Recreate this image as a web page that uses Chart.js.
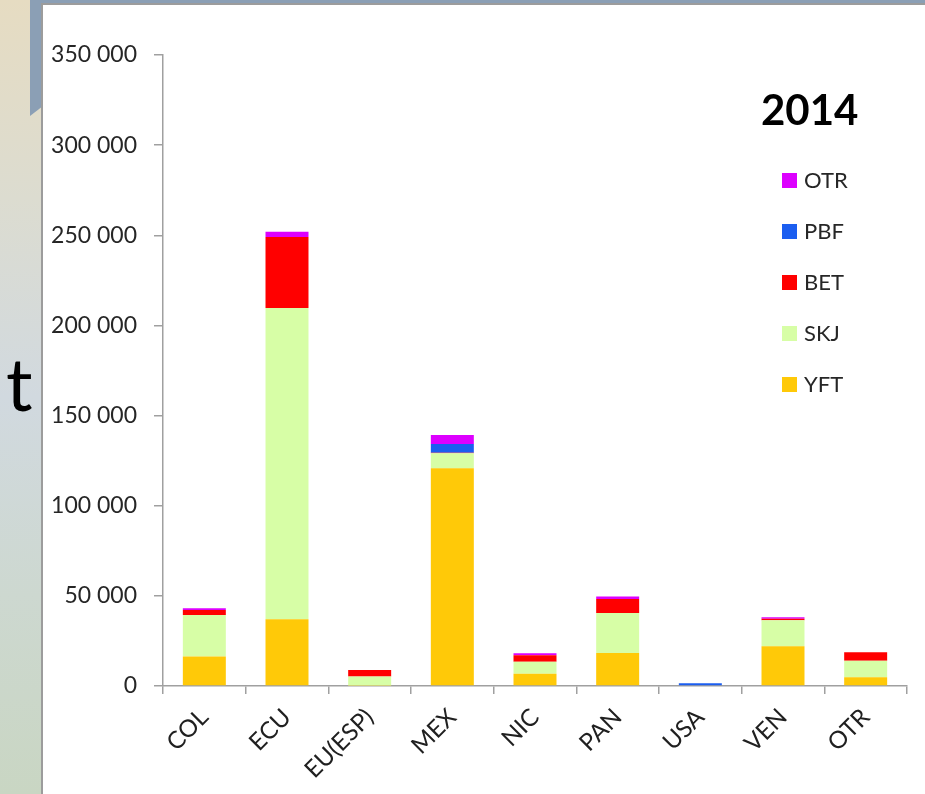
<!DOCTYPE html>
<html>
<head>
<meta charset="utf-8">
<script src="https://cdn.jsdelivr.net/npm/chart.js@4"></script>
<style>
  html, body { margin: 0; padding: 0; }
  body {
    width: 925px; height: 794px; overflow: hidden; position: relative;
    background: linear-gradient(to bottom, #e6dcc2 0%, #dcdcd0 25%, #d1d9df 50%, #cdd8d0 75%, #c9d6c3 100%);
    font-family: Lato, "Open Sans", sans-serif;
  }
  #topband { position: absolute; left: 30px; top: 0; width: 895px; height: 4px; background: #8b9fb5; }
  #corner { position: absolute; left: 30px; top: 0; width: 12px; height: 116px; background: #8b9fb5;
            clip-path: polygon(0 0, 100% 0, 100% 92%, 0 100%); }
  #panel { position: absolute; left: 41px; top: 3px; width: 900px; height: 800px; background: #fff;
           border-left: 2px solid #9c9c9c; border-top: 2px solid #9c9c9c; }
  #unit { position: absolute; left: 6px; top: 346px; font-size: 74px; line-height: 1; color: #000; }
  #wrap { position: absolute; left: 0; top: 0; width: 925px; height: 794px; }
  #year { position: absolute; left: 761px; top: 84px; font-size: 42px; font-weight: bold; color: #000; line-height: 1.2; }
  #legend { position: absolute; left: 782px; top: 165px; }
  .item { height: 51px; display: flex; align-items: flex-start; font-size: 22px; color: #262626; line-height: 30px; }
  .sw { width: 15px; height: 15px; margin-top: 8px; margin-right: 7px; }
</style>
</head>
<body>
<div id="topband"></div>
<div id="corner"></div>
<div id="panel"></div>
<div id="unit">t</div>
<div id="wrap"><canvas id="c"></canvas></div>
<div id="year">2014</div>
<div id="legend"></div>
<script>
const categories = ['COL', 'ECU', 'EU(ESP)', 'MEX', 'NIC', 'PAN', 'USA', 'VEN', 'OTR'];

// catch by species, tonnes
const yft = [16300, 37000, 300, 120800, 6800, 18300, 0, 22000, 4800];
const skj = [23100, 172600, 5000, 8300, 6700, 22200, 0, 14500, 9200];
const bet = [2800, 39400, 3600, 300, 3500, 7800, 0, 800, 4700];
const pbf = [0, 0, 0, 4800, 0, 0, 1500, 0, 0];
const otr = [900, 3000, 0, 5000, 1100, 1300, 0, 800, 0];

const yTicks = [0, 50000, 100000, 150000, 200000, 250000, 300000, 350000];

const series = [
  { label: 'YFT', data: yft, color: '#ffc908' },
  { label: 'SKJ', data: skj, color: '#d7fea6' },
  { label: 'BET', data: bet, color: '#ff0000' },
  { label: 'PBF', data: pbf, color: '#1b5ef0' },
  { label: 'OTR', data: otr, color: '#dd00ff' }
];

function spaced(v) {
  return String(v).replace(/\B(?=(\d{3})+(?!\d))/g, ' ');
}

// legend drawn top to bottom in reverse stack order
const legend = document.getElementById('legend');
series.slice().reverse().forEach(s => {
  const row = document.createElement('div');
  row.className = 'item';
  row.innerHTML = '<div class="sw" style="background:' + s.color + '"></div><span>' + s.label + '</span>';
  legend.appendChild(row);
});

const ctx = document.getElementById('c').getContext('2d');
new Chart(ctx, {
  type: 'bar',
  data: {
    labels: categories,
    datasets: series.map(s => ({
      label: s.label,
      data: s.data,
      backgroundColor: s.color,
      borderWidth: 0,
      categoryPercentage: 1,
      barPercentage: 0.52
    }))
  },
  options: {
    responsive: true,
    maintainAspectRatio: false,
    animation: false,
    layout: { padding: { top: 55, right: 18, left: 0, bottom: 0 } },
    plugins: {
      legend: { display: false },
      tooltip: { enabled: false }
    },
    scales: {
      x: {
        stacked: true,
        afterFit: scale => { scale.height = 108; },
        grid: { display: true, drawOnChartArea: false, drawTicks: true, tickLength: 8, color: '#a0a0a0', lineWidth: 1.5 },
        border: { color: '#a0a0a0', width: 1.5 },
        ticks: {
          color: '#202020',
          font: { family: 'Lato', size: 24 },
          maxRotation: 45,
          minRotation: 45,
          padding: 9
        }
      },
      y: {
        stacked: true,
        min: 0,
        max: 350000,
        afterFit: scale => { scale.width = 163; },
        afterBuildTicks: scale => { scale.ticks = yTicks.map(v => ({ value: v })); },
        grid: { display: true, drawOnChartArea: false, drawTicks: true, tickLength: 9, color: '#a0a0a0', lineWidth: 1.5 },
        border: { color: '#a0a0a0', width: 1.5 },
        ticks: {
          color: '#262626',
          font: { family: 'Lato', size: 23 },
          padding: 17,
          callback: v => spaced(v)
        }
      }
    }
  }
});
</script>
</body>
</html>
